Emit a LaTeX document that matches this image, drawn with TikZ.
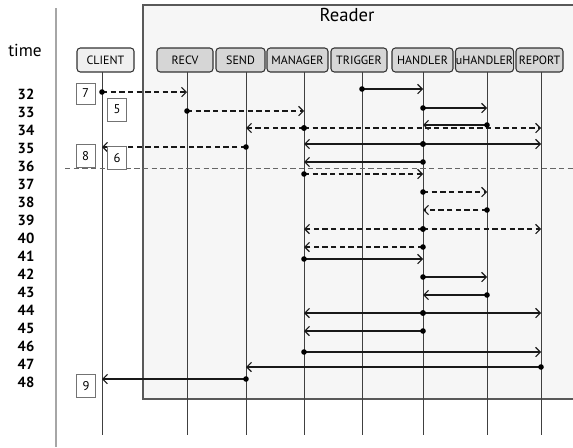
\documentclass[tikz,border=0pt]{standalone}
\usepackage{fontspec}
\setmainfont{PT Sans}
\usetikzlibrary{arrows.meta}
\newcommand\seqmsg[4]{%
  \draw[#1] (#2 |- 0,#4) -- (#3 |- 0,#4);
  \fill[black] (#2 |- 0,#4) circle (2.1pt);}
\begin{document}
\begin{tikzpicture}[x=0.75pt,y=-0.75pt,
  head/.style={draw=black!80, fill=gray!32, rounded corners=2.5pt, line width=0.8pt,
    minimum height=18pt, inner xsep=0.3pt, inner ysep=0pt, font=\fontsize{9}{10}\selectfont},
  life/.style={draw=black!75, line width=0.6pt},
  msg/.style={black!90, line width=0.9pt, -{Straight Barb[length=3.5pt,width=7pt,line width=0.8pt]}},
  dmsg/.style={msg, dash pattern=on 4pt off 2.5pt},
  note/.style={draw=black!55, fill=white, minimum width=14.25pt, minimum height=16pt,
    inner sep=0pt, line width=0.5pt, font=\fontsize{9.5}{10}\selectfont},
  tlabel/.style={font=\bfseries\fontsize{11}{12}\selectfont}]
\useasboundingbox (0,0) rectangle (573,447);
% Reader box
\fill[gray!7] (143,5) rectangle (573,399);
\draw[black!65, line width=0.9pt] (573,5) -- (143,5) -- (143,399) -- (573,399);
\node[font=\fontsize{14}{15}\selectfont] (reader) at (347,15) {Reader};
% left time bar
\draw[gray!70, line width=2pt] (56,8) -- (56,447);
\node[font=\fontsize{13}{14}\selectfont] (time) at (25,50) {time};
% headers
\node[head, fill=gray!12, minimum width=42.75pt] (hclient) at (105.5,60) {CLIENT};
\node[head, minimum width=42pt]    (hrecv)    at (185,60)   {RECV};
\node[head, minimum width=36.75pt] (hsend)    at (240.5,60) {SEND};
\node[head, minimum width=45.75pt] (hmanager) at (297.5,60) {MANAGER};
\node[head, minimum width=42pt]    (htrigger) at (359,60)   {TRIGGER};
\node[head, minimum width=45.75pt] (hhandler) at (422.5,60) {HANDLER};
\node[head, minimum width=42.75pt] (huhandler) at (484.5,60) {uHANDLER};
\node[head, minimum width=35.25pt] (hreport)  at (539.5,60) {REPORT};
% lifelines
\foreach \n/\x in {cl/102, rv/187, sd/246, mg/304, tg/362, hd/423, uh/487, rp/541}{
  \coordinate (\n) at (\x,72);
  \coordinate (\n b) at (\x,435);
  \draw[life] (\n) -- (\n b);
}
% time labels
\foreach \t [count=\i from 0] in {32,...,48}{
  \node[tlabel] (t\t) at (26,{94+18*\i}) {\t};
}
% separator
\coordinate (sepL) at (65,168);
\coordinate (sepR) at (573,168);
\draw[black!60, line width=0.7pt, dash pattern=on 4pt off 2.5pt] (sepL) -- (sepR);
% messages
\seqmsg{dmsg}{cl}{rv}{92}
\seqmsg{msg}{tg}{hd}{89}
\seqmsg{dmsg}{rv}{mg}{111}
\seqmsg{msg}{hd}{uh}{108}
\seqmsg{dmsg}{mg}{sd}{128}
\seqmsg{dmsg}{mg}{rp}{128}
\seqmsg{msg}{uh}{hd}{125}
\seqmsg{dmsg}{sd}{cl}{147}
\seqmsg{msg}{hd}{mg}{144}
\seqmsg{msg}{hd}{rp}{144}
\seqmsg{msg}{hd}{mg}{162}
\seqmsg{dmsg}{mg}{hd}{174}
\seqmsg{dmsg}{hd}{uh}{192}
\seqmsg{dmsg}{uh}{hd}{210}
\seqmsg{dmsg}{hd}{mg}{229}
\seqmsg{dmsg}{hd}{rp}{229}
\seqmsg{dmsg}{hd}{mg}{247}
\seqmsg{msg}{mg}{hd}{259}
\seqmsg{msg}{hd}{uh}{277}
\seqmsg{msg}{uh}{hd}{295}
\seqmsg{msg}{hd}{mg}{313}
\seqmsg{msg}{hd}{rp}{313}
\seqmsg{msg}{hd}{mg}{331}
\seqmsg{msg}{mg}{rp}{352}
\seqmsg{msg}{rp}{sd}{367}
\seqmsg{msg}{sd}{cl}{379}
% notes
\node[note] (n7) at (85.5,93.5) {7};
\node[note, minimum height=17pt] (n5) at (117,109.5) {5};
\node[note, minimum height=17pt] (n8) at (85.5,156) {8};
\node[note, minimum height=17pt] (n6) at (117,158) {6};
\node[note, minimum height=17pt] (n9) at (86,386) {9};
\end{tikzpicture}
\end{document}
